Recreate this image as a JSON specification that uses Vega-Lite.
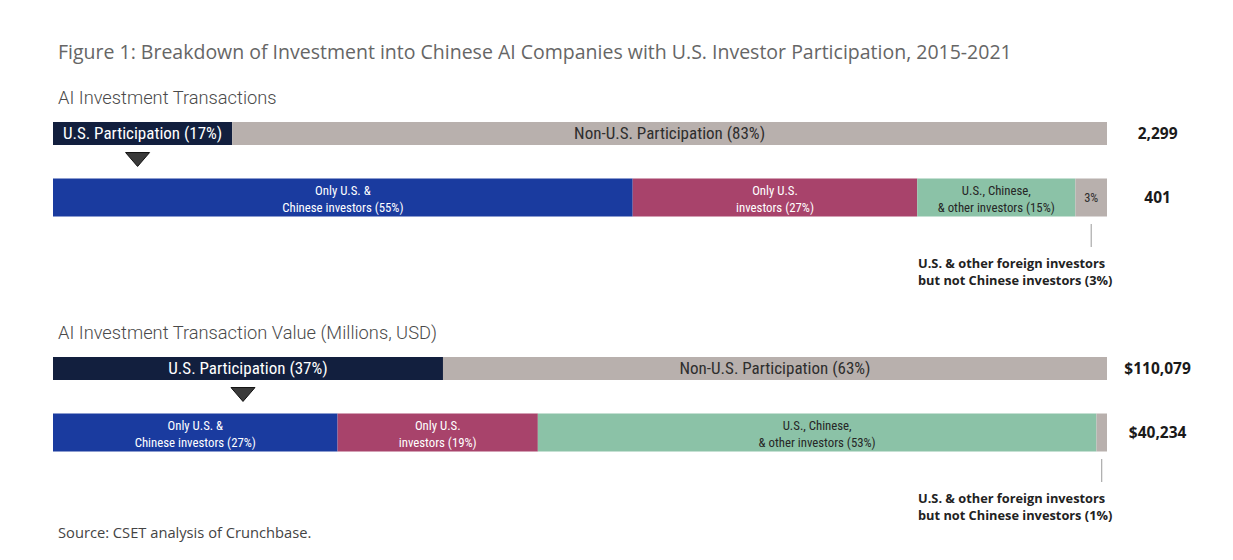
{
  "$schema": "https://vega.github.io/schema/vega-lite/v6.json",
  "background": "white",
  "padding": {"left": 53, "top": 42.5, "right": 0, "bottom": 0},
  "bounds": "flush",
  "config": {"view": {"stroke": null}, "font": "Open Sans"},
  "data": {"values": [
    {"kind": "title", "panel": "Transactions", "label": "Figure 1: Breakdown of Investment into Chinese AI Companies with U.S. Investor Participation, 2015-2021"},
    {"kind": "subtitle", "panel": "Transactions", "label": "AI Investment Transactions"},
    {"kind": "subtitle", "panel": "Value", "label": "AI Investment Transaction Value (Millions, USD)"},
    {"kind": "source", "panel": "Value", "label": "Source: CSET analysis of Crunchbase."},
    {"kind": "total", "panel": "Transactions", "level": "Participation", "label": "2,299"},
    {"kind": "total", "panel": "Transactions", "level": "Breakdown", "label": "401"},
    {"kind": "total", "panel": "Value", "level": "Participation", "label": "$110,079"},
    {"kind": "total", "panel": "Value", "level": "Breakdown", "label": "$40,234"},
    {"kind": "seg", "panel": "Transactions", "level": "Participation", "group": "US", "seq": 1, "pct": 17, "label": "U.S. Participation (17%)"},
    {"kind": "seg", "panel": "Transactions", "level": "Participation", "group": "NonUS", "seq": 2, "pct": 83, "label": "Non-U.S. Participation (83%)"},
    {"kind": "seg", "panel": "Transactions", "level": "Breakdown", "group": "USChinese", "seq": 1, "pct": 55, "label": "Only U.S. &\nChinese investors (55%)"},
    {"kind": "seg", "panel": "Transactions", "level": "Breakdown", "group": "USOnly", "seq": 2, "pct": 27, "label": "Only U.S.\ninvestors (27%)"},
    {"kind": "seg", "panel": "Transactions", "level": "Breakdown", "group": "USChineseOther", "seq": 3, "pct": 15, "label": "U.S., Chinese,\n& other investors (15%)"},
    {"kind": "seg", "panel": "Transactions", "level": "Breakdown", "group": "USOtherForeign", "seq": 4, "pct": 3, "label": "3%", "note": "U.S. & other foreign investors\nbut not Chinese investors (3%)"},
    {"kind": "seg", "panel": "Value", "level": "Participation", "group": "US", "seq": 1, "pct": 37, "label": "U.S. Participation (37%)"},
    {"kind": "seg", "panel": "Value", "level": "Participation", "group": "NonUS", "seq": 2, "pct": 63, "label": "Non-U.S. Participation (63%)"},
    {"kind": "seg", "panel": "Value", "level": "Breakdown", "group": "USChinese", "seq": 1, "pct": 27, "label": "Only U.S. &\nChinese investors (27%)"},
    {"kind": "seg", "panel": "Value", "level": "Breakdown", "group": "USOnly", "seq": 2, "pct": 19, "label": "Only U.S.\ninvestors (19%)"},
    {"kind": "seg", "panel": "Value", "level": "Breakdown", "group": "USChineseOther", "seq": 3, "pct": 53, "label": "U.S., Chinese,\n& other investors (53%)"},
    {"kind": "seg", "panel": "Value", "level": "Breakdown", "group": "USOtherForeign", "seq": 4, "pct": 1, "label": "", "note": "U.S. & other foreign investors\nbut not Chinese investors (1%)"}
  ]},
  "transform": [
    {"stack": "pct", "groupby": ["panel", "kind", "level"], "sort": [{"field": "seq", "order": "ascending"}], "as": ["x0", "x1"]},
    {"fold": ["x0", "x1"], "as": ["edge", "xe"]},
    {"joinaggregate": [{"op": "mean", "field": "xe", "as": "xm"}], "groupby": ["panel", "kind", "level", "group"]},
    {"filter": "datum.edge === 'x0'"}
  ],
  "facet": {"row": {"field": "panel", "type": "nominal", "sort": ["Transactions", "Value"], "header": null}},
  "spacing": {"row": 107},
  "spec": {
    "width": 1054,
    "height": 128,
    "layer": [
      {
        "transform": [{"filter": "datum.kind === 'seg' && datum.level === 'Participation'"}],
        "mark": {"type": "bar", "size": 23},
        "encoding": {
          "x": {"field": "x0", "type": "quantitative", "scale": {"domain": [0, 100], "nice": false, "zero": false}, "axis": null},
          "x2": {"field": "x1"},
          "y": {"field": "level", "type": "nominal", "scale": {"domain": ["Participation", "Breakdown"], "paddingInner": 0, "paddingOuter": 0}, "axis": null},
          "fill": {"field": "group", "type": "nominal", "legend": null, "scale": {"domain": ["US", "NonUS", "USChinese", "USOnly", "USChineseOther", "USOtherForeign"], "range": ["#121f3e", "#b8b0ad", "#1a3b9f", "#a8436b", "#8bc2a7", "#b8b0ad"]}}
        }
      },
      {
        "transform": [{"filter": "datum.kind === 'seg' && datum.level === 'Breakdown'"}],
        "mark": {"type": "bar", "size": 38},
        "encoding": {
          "x": {"field": "x0", "type": "quantitative"},
          "x2": {"field": "x1"},
          "y": {"field": "level", "type": "nominal"},
          "fill": {"field": "group", "type": "nominal", "legend": null}
        }
      },
      {
        "transform": [{"filter": "datum.kind === 'seg' && (datum.level === 'Participation' || datum.group === 'USOtherForeign')"}],
        "mark": {"type": "text", "font": "Liberation Sans Narrow, Roboto Condensed, DejaVu Sans Condensed, sans-serif", "baseline": "middle", "align": "center"},
        "encoding": {
          "x": {"field": "xm", "type": "quantitative"},
          "y": {"field": "level", "type": "nominal"},
          "text": {"field": "label", "type": "nominal"},
          "color": {"field": "group", "type": "nominal", "legend": null, "scale": {"domain": ["US", "NonUS", "USChinese", "USOnly", "USChineseOther", "USOtherForeign"], "range": ["#ffffff", "#2e2e2e", "#ffffff", "#ffffff", "#262626", "#2e2e2e"]}},
          "size": {"field": "level", "type": "nominal", "legend": null, "scale": {"domain": ["Participation", "Breakdown"], "range": [17, 12.5]}}
        }
      },
      {
        "transform": [{"filter": "datum.kind === 'seg' && datum.level === 'Breakdown' && datum.group !== 'USOtherForeign'"}],
        "mark": {"type": "text", "font": "Liberation Sans Narrow, Roboto Condensed, DejaVu Sans Condensed, sans-serif", "fontSize": 12.8, "lineBreak": "\n", "lineHeight": 17, "baseline": "middle", "align": "center", "yOffset": -7},
        "encoding": {
          "x": {"field": "xm", "type": "quantitative"},
          "y": {"field": "level", "type": "nominal"},
          "text": {"field": "label", "type": "nominal"},
          "color": {"field": "group", "type": "nominal", "legend": null}
        }
      },
      {
        "transform": [{"filter": "datum.kind === 'seg' && datum.group === 'US'"}],
        "mark": {"type": "point", "shape": "M-1,-0.58L1,-0.58L0,0.58Z", "size": 576, "filled": true, "fill": "#3a3a3a", "stroke": "#111111", "strokeWidth": 1, "opacity": 1, "yOffset": 26, "xOffset": -5},
        "encoding": {
          "x": {"field": "xm", "type": "quantitative"},
          "y": {"field": "level", "type": "nominal"}
        }
      },
      {
        "transform": [{"filter": "datum.kind === 'seg' && datum.group === 'USOtherForeign'"}],
        "mark": {"type": "tick", "orient": "vertical", "size": 23, "thickness": 1, "color": "#9a9a9a", "opacity": 1, "yOffset": 38},
        "encoding": {
          "x": {"field": "xm", "type": "quantitative"},
          "y": {"field": "level", "type": "nominal"}
        }
      },
      {
        "transform": [{"filter": "datum.kind === 'seg' && datum.group === 'USOtherForeign'"}],
        "mark": {"type": "text", "font": "Open Sans", "fontWeight": "bold", "fontSize": 12.8, "lineBreak": "\n", "lineHeight": 16.5, "align": "left", "baseline": "middle", "color": "#222222", "yOffset": 66.5},
        "encoding": {
          "x": {"datum": 82.07, "type": "quantitative"},
          "y": {"field": "level", "type": "nominal"},
          "text": {"field": "note", "type": "nominal"}
        }
      },
      {
        "transform": [{"filter": "datum.kind === 'total'"}],
        "mark": {"type": "text", "font": "Open Sans", "fontWeight": "bold", "fontSize": 15.5, "align": "center", "baseline": "middle", "color": "#1a1a1a"},
        "encoding": {
          "x": {"datum": 104.8, "type": "quantitative"},
          "y": {"field": "level", "type": "nominal"},
          "text": {"field": "label", "type": "nominal"}
        }
      },
      {
        "transform": [{"filter": "datum.kind === 'subtitle'"}],
        "mark": {"type": "text", "font": "Roboto", "fontWeight": 300, "fontSize": 18.3, "align": "left", "baseline": "middle", "color": "#4a4a4a", "dx": 5, "yOffset": -34.5},
        "encoding": {
          "x": {"datum": 0, "type": "quantitative"},
          "y": {"datum": "Participation", "type": "nominal"},
          "text": {"field": "label", "type": "nominal"}
        }
      },
      {
        "transform": [{"filter": "datum.kind === 'title'"}],
        "mark": {"type": "text", "font": "Open Sans", "fontSize": 19.5, "align": "left", "baseline": "middle", "color": "#666666", "dx": 5, "yOffset": -80.5},
        "encoding": {
          "x": {"datum": 0, "type": "quantitative"},
          "y": {"datum": "Participation", "type": "nominal"},
          "text": {"field": "label", "type": "nominal"}
        }
      },
      {
        "transform": [{"filter": "datum.kind === 'source'"}],
        "mark": {"type": "text", "font": "Open Sans", "fontSize": 14.7, "align": "left", "baseline": "middle", "color": "#444444", "dx": 5, "yOffset": 101.5},
        "encoding": {
          "x": {"datum": 0, "type": "quantitative"},
          "y": {"datum": "Breakdown", "type": "nominal"},
          "text": {"field": "label", "type": "nominal"}
        }
      }
    ]
  }
}
